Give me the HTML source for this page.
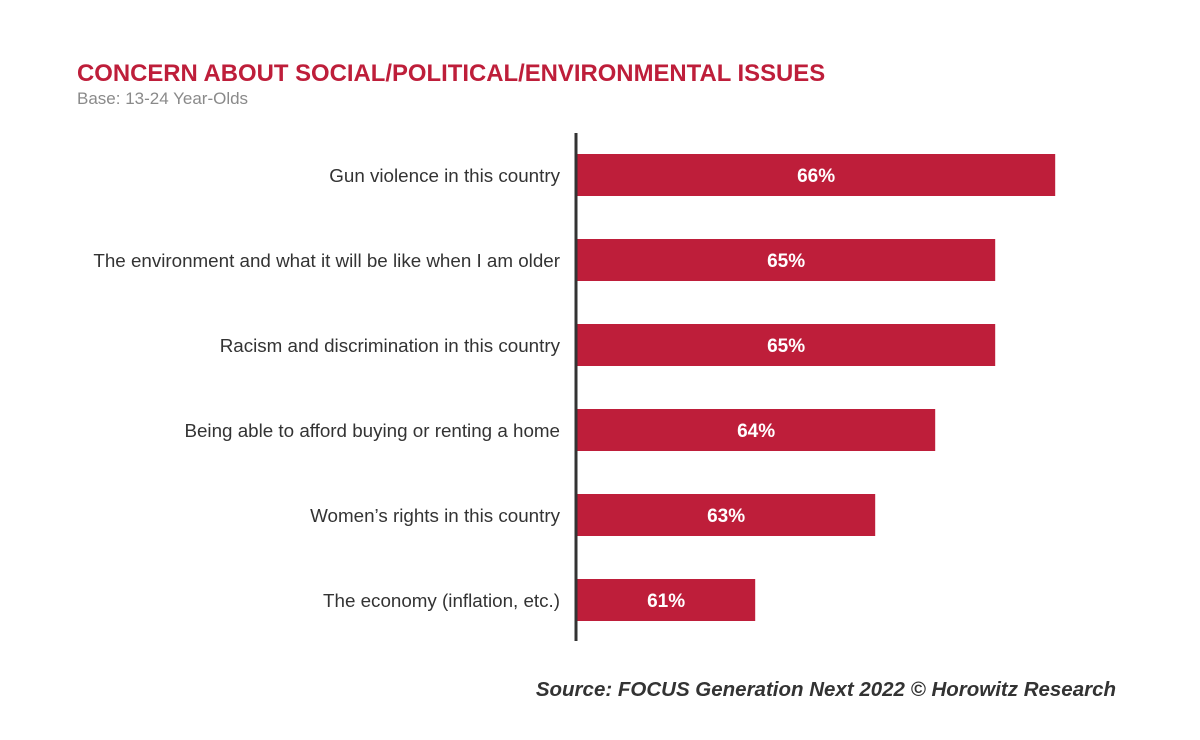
<!DOCTYPE html>
<html><head><meta charset="utf-8"><style>
body{margin:0;background:#fff;}
svg{display:block;font-family:"Liberation Sans",Arial,sans-serif;}
</style></head><body>
<svg id="chart" width="1200" height="740" viewBox="0 0 1200 740">
<rect width="1200" height="740" fill="#fff"/>
<text x="77" y="81" font-size="23.9" font-weight="bold" fill="#BE1E3A">CONCERN ABOUT SOCIAL/POLITICAL/ENVIRONMENTAL ISSUES</text>
<text x="77" y="104" font-size="17" fill="#8a8a8a">Base: 13-24 Year-Olds</text>
<g id="bars"></g>
<line x1="576" y1="133" x2="576" y2="641" stroke="#333" stroke-width="3"/>
<text x="1116" y="696" font-size="20.5" font-weight="bold" font-style="italic" fill="#333" text-anchor="end">Source: FOCUS Generation Next 2022 © Horowitz Research</text>
</svg>
<script>
const categories=["Gun violence in this country","The environment and what it will be like when I am older","Racism and discrimination in this country","Being able to afford buying or renting a home","Women’s rights in this country","The economy (inflation, etc.)"];
const values=[66,65,65,64,63,61];
const valueLabels=["66%","65%","65%","64%","63%","61%"];
const xMin=58.03;
function xScale(v){return 577+(v-xMin)*60;}
function yCenter(i){return 175+i*85;}
const g=document.getElementById('bars');
const ns='http://www.w3.org/2000/svg';
values.forEach((v,i)=>{
  const r=document.createElementNS(ns,'rect');
  
  
  const x0=xScale(xMin),x1=xScale(v);
  r.setAttribute('x',x0);r.setAttribute('y',yCenter(i)-21);
  r.setAttribute('width',x1-x0);r.setAttribute('height',42);
  r.setAttribute('fill','#BE1E3A');
  g.appendChild(r);
  const t=document.createElementNS(ns,'text');
  
  
  t.setAttribute('x',(x0+x1)/2);t.setAttribute('y',yCenter(i)+7);
  t.setAttribute('text-anchor','middle');t.setAttribute('font-size','19');
  t.setAttribute('font-weight','bold');t.setAttribute('fill','#fff');
  t.textContent=valueLabels[i];
  g.appendChild(t);
  const c=document.createElementNS(ns,'text');
  
  
  c.setAttribute('x',560);c.setAttribute('y',yCenter(i)+7);
  c.setAttribute('text-anchor','end');c.setAttribute('font-size','18.8');
  c.setAttribute('fill','#333');
  c.textContent=categories[i];
  g.appendChild(c);
});
</script>
</body></html>
